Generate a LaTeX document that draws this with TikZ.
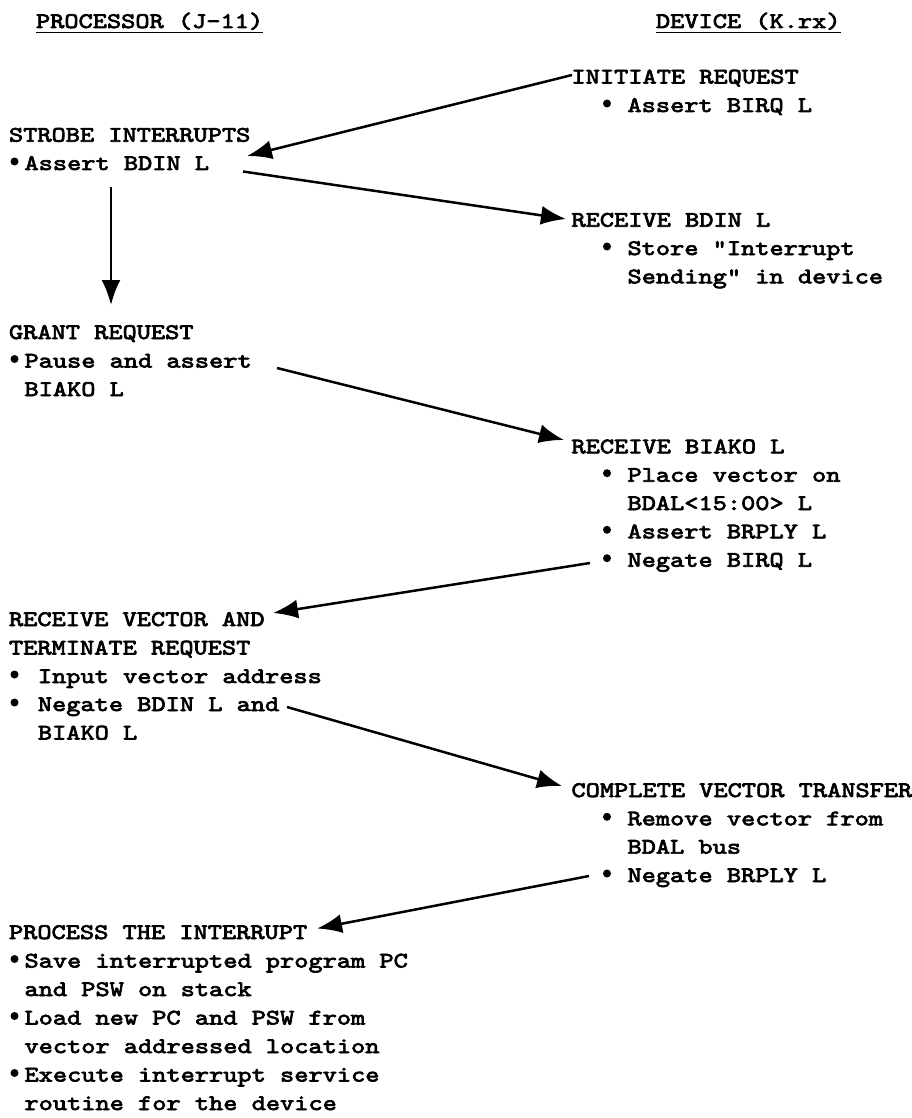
\documentclass[tikz,border=0pt]{standalone}
\usepackage{fontspec}
\newfontfamily\typer{lmmono10-regular.otf}[FakeStretch=1.22, FakeBold=3.2]
\usetikzlibrary{arrows.meta}

\begin{document}
\begin{tikzpicture}[x=1pt, y=-1pt,
  txt/.style={anchor=base west, inner sep=0pt, outer sep=0pt,
              font={\typer\fontsize{22.17pt}{28.4pt}\selectfont}},
  dot/.style={circle, fill, inner sep=0pt, outer sep=0pt, minimum size=8pt},
  arr/.style={line width=2.5pt, -{Latex[length=25pt,width=19pt]}},
  ul/.style={line width=1.8pt}]
\useasboundingbox (0,0) rectangle (911,1118);

% column titles
\node[txt] (pt) at (36,28) {PROCESSOR (J-11)};
\node[txt] (dt) at (656,28) {DEVICE (K.rx)};
\draw[ul] ([yshift=-4.5pt]pt.base west) -- ([yshift=-4.5pt]pt.base east);
\draw[ul] ([yshift=-4.5pt]dt.base west) -- ([yshift=-4.5pt]dt.base east);

% device: initiate request
\node[txt] (ir) at (571.5,83.5) {INITIATE REQUEST};
\node[dot] (irb1) at (607,103.5) {};
\node[txt] (ir1) at (627.5,112) {Assert BIRQ L};

% processor: strobe interrupts
\node[txt] (si) at (9,141.7) {STROBE INTERRUPTS};
\node[dot] (sib1) at (14.5,161.5) {};
\node[txt] (si1) at (24.5,170) {Assert BDIN L};

% device: receive BDIN
\node[txt] (rb) at (571.5,226.7) {RECEIVE BDIN L};
\node[dot] (rbb1) at (607,246.5) {};
\node[txt] (rb1) at (627.5,255) {Store "Interrupt};
\node[txt] (rb2) at (627.5,283.3) {Sending" in device};

% processor: grant request
\node[txt] (gr) at (9,339) {GRANT REQUEST};
\node[dot] (grb1) at (14.5,359) {};
\node[txt] (gr1) at (24.5,367.5) {Pause and assert};
\node[txt] (gr2) at (24.5,396) {BIAKO L};

% device: receive BIAKO
\node[txt] (rk) at (571.5,453.3) {RECEIVE BIAKO L};
\node[dot] (rkb1) at (607,473.2) {};
\node[txt] (rk1) at (627.5,481.7) {Place vector on};
\node[txt] (rk2) at (627.5,510) {BDAL<15:00> L};
\node[dot] (rkb3) at (607,529.8) {};
\node[txt] (rk3) at (627.5,538.3) {Assert BRPLY L};
\node[dot] (rkb4) at (607,558.2) {};
\node[txt] (rk4) at (627.5,566.7) {Negate BIRQ L};

% processor: receive vector and terminate request
\node[txt] (rv) at (9,626) {RECEIVE VECTOR AND};
\node[txt] (rv0) at (9,654.5) {TERMINATE REQUEST};
\node[dot] (rvb1) at (14.5,674.5) {};
\node[txt] (rv1) at (37.9,683) {Input vector address};
\node[dot] (rvb2) at (14.5,702.5) {};
\node[txt] (rv2) at (37.9,711) {Negate BDIN L and};
\node[txt] (rv3) at (37.9,739.5) {BIAKO L};

% device: complete vector transfer
\node[txt] (cv) at (571.5,797) {COMPLETE VECTOR TRANSFER};
\node[dot] (cvb1) at (607,816.8) {};
\node[txt] (cv1) at (627.5,825.3) {Remove vector from};
\node[txt] (cv2) at (627.5,853.6) {BDAL bus};
\node[dot] (cvb3) at (607,873.5) {};
\node[txt] (cv3) at (627.5,882) {Negate BRPLY L};

% processor: process the interrupt
\node[txt] (pi) at (9,939) {PROCESS THE INTERRUPT};
\node[dot] (pib1) at (14.5,959) {};
\node[txt] (pi1) at (24.5,967.5) {Save interrupted program PC};
\node[txt] (pi2) at (24.5,996) {and PSW on stack};
\node[dot] (pib3) at (14.5,1016) {};
\node[txt] (pi3) at (24.5,1024.5) {Load new PC and PSW from};
\node[txt] (pi4) at (24.5,1053) {vector addressed location};
\node[dot] (pib5) at (14.5,1073) {};
\node[txt] (pi5) at (24.5,1081.5) {Execute interrupt service};
\node[txt] (pi6) at (24.5,1110) {routine for the device};

% connector ends
\coordinate (a1s) at (572,75);   \coordinate (a1e) at (247,156);
\coordinate (a2s) at (243,171.5);\coordinate (a2e) at (566,219);
\coordinate (a3s) at (111,187);  \coordinate (a3e) at (111,305);
\coordinate (a4s) at (277,368);  \coordinate (a4e) at (564,440);
\coordinate (a5s) at (590,563);  \coordinate (a5e) at (273,613);
\coordinate (a6s) at (287,707);  \coordinate (a6e) at (562,786);
\coordinate (a7s) at (589,876);  \coordinate (a7e) at (317,928.5);

% handshake arrows
\draw[arr] (a1s) -- (a1e);
\draw[arr] (a2s) -- (a2e);
\draw[arr] (a3s) -- (a3e);
\draw[arr] (a4s) -- (a4e);
\draw[arr] (a5s) -- (a5e);
\draw[arr] (a6s) -- (a6e);
\draw[arr] (a7s) -- (a7e);
\end{tikzpicture}
\end{document}
